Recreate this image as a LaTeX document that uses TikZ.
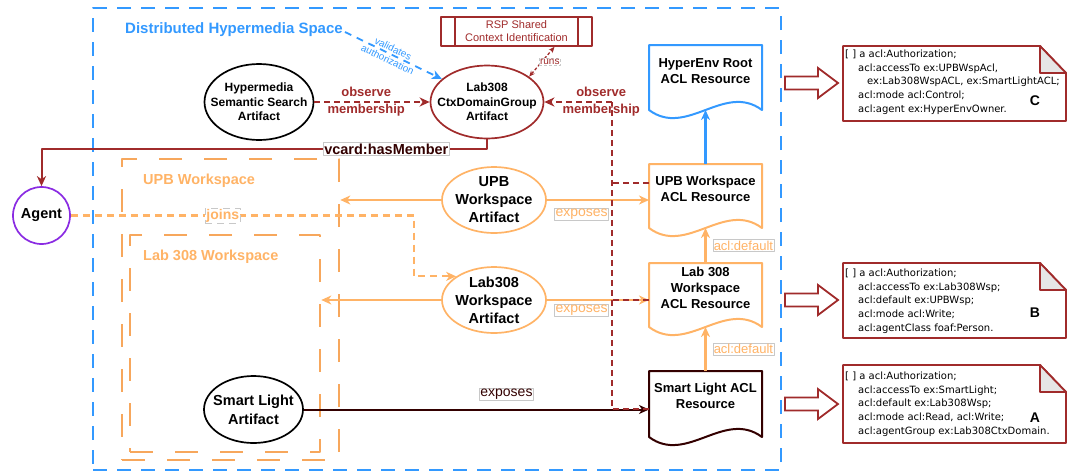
\documentclass[tikz,border=0pt]{standalone}
\usepackage{fontspec}
\setmainfont{Liberation Sans}
\newfontfamily\notefont{DejaVu Sans}
\usetikzlibrary{arrows.meta,calc,shapes.geometric}
\definecolor{hblue}{HTML}{3399FF}
\definecolor{horange}{HTML}{FFB366}
\definecolor{wsorange}{HTML}{F7A75C}
\definecolor{dred}{HTML}{A02B2B}
\definecolor{dbrown}{HTML}{330000}
\definecolor{purp}{HTML}{8A2BE2}
\definecolor{lblgray}{HTML}{C8C8C8}
\definecolor{foldgray}{HTML}{E6E6E6}
\newcommand\myfs[2]{\fontsize{#1}{#2}\selectfont}
\newcommand\docoutline[4]{%
  \draw[#4] ($(#1)+(-56.5,-#2)$) -- ($(#1)+(56.5,-#2)$) -- ($(#1)+(56.5,#3)$)
    .. controls ($(#1)+(18.8,#3-28)$) and ($(#1)+(-18.8,#3+28)$) .. ($(#1)+(-56.5,#3)$) -- cycle;
  \coordinate (#1-top) at ($(#1)+(0,-#2)$);
  \coordinate (#1-bot) at ($(#1)+(0,#3)$);
  \coordinate (#1-w) at ($(#1)+(-56.5,0)$);}
\newcommand\notebox[4]{%
  \draw[dred, line width=1.8pt, fill=white] (#1,#2) -- (#3-26,#2) -- (#3,#2+27) -- (#3,#4) -- (#1,#4) -- cycle;
  \draw[dred, line width=1.8pt, fill=foldgray] (#3-26,#2) -- (#3-26,#2+27) -- (#3,#2+27) -- cycle;}
\newcommand\blockarrow[1]{%
  \draw[dred, line width=1.8pt, fill=white, line join=miter] (785,#1-6.5) -- (818,#1-6.5) -- (818,#1-15) -- (838,#1) -- (818,#1+15) -- (818,#1+6.5) -- (785,#1+6.5) -- cycle;}
\tikzset{
  art/.style={ellipse, draw, line width=1.7pt, inner sep=-20pt, align=center, font=\bfseries\myfs{14.5}{18}},
  smallart/.style={font=\bfseries\myfs{12}{14.5}},
  acltext/.style={inner sep=0pt, align=center, font=\bfseries\myfs{13}{16}},
  lbl/.style={draw=lblgray, line width=0.5pt, fill=white, inner sep=1pt, font=\myfs{14}{16}},
  obslbl/.style={text=dred, font=\bfseries\myfs{13}{17}, align=center, inner sep=0pt},
  obsline/.style={dred, line width=2pt, dash pattern=on 6pt off 4pt},
  obs/.style={obsline, ->},
  orarr/.style={horange, line width=2.2pt, ->},
  wsbox/.style={draw=wsorange, line width=2.6pt, dash pattern=on 23pt off 22pt, inner sep=0pt},
  wslbl/.style={text=horange, font=\bfseries\myfs{14.5}{17}, inner sep=0pt, anchor=west},
  notetxt/.style={anchor=north west, inner sep=0pt, align=left, font=\notefont\myfs{10}{13.8}},
  letter/.style={font=\bfseries\myfs{14}{16}, inner sep=0pt}
}
\begin{document}
\begin{tikzpicture}[x=1pt,y=-1pt, line join=round, >={Stealth[length=10pt,width=9pt,inset=3pt]}]
\useasboundingbox (0,0) rectangle (1068,472);

% outer space
\node[draw=hblue, line width=1.8pt, dash pattern=on 14pt off 10pt, minimum width=688pt, minimum height=462pt, inner sep=0pt] (dhs) at (437,239) {};
\node[anchor=west, inner sep=0pt, text=hblue, font=\bfseries\myfs{15}{17}] (title) at (125,30) {Distributed Hypermedia Space};

% workspaces
\node[wsbox, minimum width=217pt, minimum height=301pt] (upbws) at (230.5,309.5) {};
\node[wsbox, minimum width=190pt, minimum height=217pt] (labws) at (225,343.5) {};
\node[wslbl] (upbwsl) at (143,181) {UPB Workspace};
\node[wslbl] (labwsl) at (143,257) {Lab 308 Workspace};

% artifacts
\node[art, smallart, minimum width=109pt, minimum height=76pt] (hss) at (259,102) {Hypermedia\\Semantic Search\\Artifact};
\node[art, smallart, draw=dred, minimum width=113pt, minimum height=73pt] (ctx) at (487,102) {Lab308\\CtxDomainGroup\\Artifact};
\node[art, draw=horange, minimum width=104pt, minimum height=66pt] (upbart) at (494,200) {UPB\\Workspace\\Artifact};
\node[art, draw=horange, minimum width=104pt, minimum height=66pt] (labart) at (494,300) {Lab308\\Workspace\\Artifact};
\node[art, minimum width=99pt, minimum height=67pt, font=\bfseries\myfs{14.5}{19}] (slart) at (253.5,409.5) {Smart Light\\Artifact};
\node[circle, draw=purp, line width=1.7pt, minimum size=57pt, inner sep=0pt, font=\bfseries\myfs{14.5}{17}] (agent) at (41.5,215.5) {Agent};

% RSP
\node[draw=dred, line width=1.7pt, minimum width=151pt, minimum height=29pt, inner sep=0pt, align=center, text=dred, font=\myfs{11}{13}] (rsp) at (516.5,31.5) {RSP Shared\\Context Identification};
\draw[dred, line width=1.7pt] ($(rsp.north west)+(15,0)$) -- ($(rsp.south west)+(15,0)$);
\draw[dred, line width=1.7pt] ($(rsp.north east)+(-15,0)$) -- ($(rsp.south east)+(-15,0)$);

% ACL documents
\node[acltext] (hyper) at (705.5,71) {HyperEnv Root\\ACL Resource};
\docoutline{hyper}{26}{39}{hblue, line width=2pt}
\node[acltext] (upbacl) at (705.5,189) {UPB Workspace\\ACL Resource};
\docoutline{upbacl}{25}{39}{horange, line width=2pt}
\node[acltext] (labacl) at (705.5,287.5) {Lab 308\\Workspace\\ACL Resource};
\docoutline{labacl}{24.5}{39.5}{horange, line width=2pt}
\node[acltext] (slacl) at (705.5,396) {Smart Light ACL\\Resource};
\docoutline{slacl}{25}{41}{dbrown, line width=2pt}

% connectors
\draw[hblue, line width=2.2pt, ->] (upbacl-top) -- (hyper-bot);
\draw[orarr] (labacl-top) -- (upbacl-bot) node[lbl, text=horange, font=\myfs{13}{15}, pos=0.5, anchor=west, xshift=7pt] {acl:default};
\draw[orarr] (slacl-top) -- (labacl-bot) node[lbl, text=horange, font=\myfs{13}{15}, pos=0.5, anchor=west, xshift=7pt] {acl:default};

\draw[orarr] (upbart.west) -- (upbart.west -| upbws.east);
\draw[orarr] (labart.west) -- (labart.west -| labws.east);
\draw[orarr] (upbart.east) -- (upbart.east -| upbacl-w) node[lbl, text=horange, pos=0.34, yshift=-14pt] {exposes};
\draw[orarr] (labart.east) -- (labart.east -| labacl-w) node[lbl, text=horange, pos=0.34, yshift=-10pt] {exposes};
\draw[dbrown, line width=2pt, ->] (slart.east) -- (slart.east -| slacl-w) node[lbl, pos=0.587, yshift=15pt] {exposes};

\draw[horange, line width=2.2pt, dash pattern=on 7pt off 5pt, ->] (agent.east) -- ++(343,0) node[lbl, pos=0.443, text=horange, font=\bfseries\myfs{14}{16}] {joins} |- (labart.148);

\draw[dred, line width=2pt, ->] (ctx.south) -- ++(0,9.5) -| (agent.north) node[lbl, pos=0.113, text=dbrown, font=\bfseries\myfs{14.5}{16}] {vcard:hasMember};

\draw[obs] (hss.east) -- (ctx.west) node[obslbl, pos=0.45] {observe\\membership};
\coordinate (bus) at (612,102);
\draw[obsline] ($(upbacl-w)+(0,-6)$) -- ($(bus |- upbacl-w)+(0,-6)$);
\draw[obsline] ($(labacl-w)+(0,12.5)$) -- ($(bus |- labacl-w)+(0,12.5)$);
\draw[obsline] ($(slacl-w)+(0,13)$) -| (bus);
\draw[obs] (bus) -- (ctx.east) node[obslbl, pos=0.16] {observe\\membership};

\draw[hblue, line width=1.8pt, dash pattern=on 7pt off 6pt, ->] ($(title.east)+(2,2)$) -- (ctx.153) node[sloped, pos=0.47, text=hblue, font=\myfs{10}{12.5}, align=center, inner sep=0pt] {validates\\authorization};

\draw[dred, line width=1.3pt, dash pattern=on 3pt off 2pt, >={Stealth[length=6pt,width=5pt]}, <->] (ctx.31) -- (rsp.338.3) node[lbl, pos=0.5, xshift=8pt, text=dred, font=\myfs{10}{11}] {runs};

% notes
\blockarrow{83}
\notebox{843}{46}{1066}{121}
\node[notetxt] (ntC) at (845,49.5) {[ ] a acl:Authorization;\\\hspace*{13pt}acl:accessTo ex:UPBWspAcl,\\\hspace*{22pt}ex:Lab308WspACL, ex:SmartLightACL;\\\hspace*{13pt}acl:mode acl:Control;\\\hspace*{13pt}acl:agent ex:HyperEnvOwner.};
\node[letter] (lC) at (1035,101) {C};

\blockarrow{300}
\notebox{843}{263}{1066}{338}
\node[notetxt] (ntB) at (845,268.5) {[ ] a acl:Authorization;\\\hspace*{13pt}acl:accessTo ex:Lab308Wsp;\\\hspace*{13pt}acl:default ex:UPBWsp;\\\hspace*{13pt}acl:mode acl:Write;\\\hspace*{13pt}acl:agentClass foaf:Person.};
\node[letter] (lB) at (1035,313) {B};

\blockarrow{404}
\notebox{843}{365}{1066}{443}
\node[notetxt] (ntA) at (845,371.5) {[ ] a acl:Authorization;\\\hspace*{13pt}acl:accessTo ex:SmartLight;\\\hspace*{13pt}acl:default ex:Lab308Wsp;\\\hspace*{13pt}acl:mode acl:Read, acl:Write;\\\hspace*{13pt}acl:agentGroup ex:Lab308CtxDomain.};
\node[letter] (lA) at (1035,418) {A};
\end{tikzpicture}
\end{document}
